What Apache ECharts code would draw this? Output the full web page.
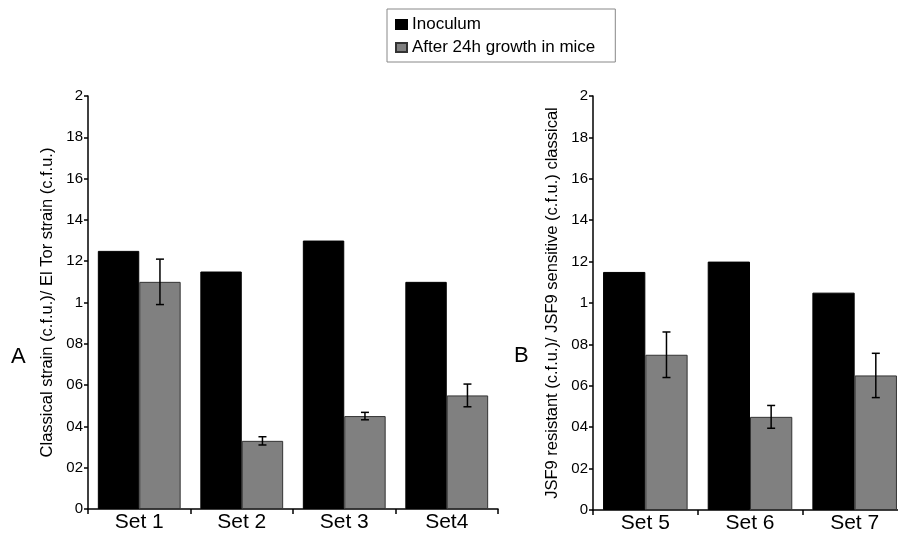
<!DOCTYPE html>
<html>
<head>
<meta charset="utf-8">
<script src="https://cdn.jsdelivr.net/npm/echarts@6/dist/echarts.min.js"></script>
<style>
html,body{margin:0;padding:0;background:#fff;overflow:hidden;width:898px;height:535px;}
#c{width:912px;height:535px;}
</style>
</head>
<body>
<div id="c"></div>
<script>
const catsA = ['Set 1', 'Set 2', 'Set 3', 'Set4'];
const inocA = [1.25, 1.15, 1.3, 1.1];
const miceA = [1.10, 0.33, 0.45, 0.55];
const errA = [0.11, 0.02, 0.018, 0.055];

const catsB = ['Set 5', 'Set 6', 'Set 7'];
const inocB = [1.15, 1.2, 1.05];
const miceB = [0.75, 0.45, 0.65];
const errB = [0.11, 0.055, 0.107];

const yTickLabels = ['0', '02', '04', '06', '08', '1', '12', '14', '16', '18', '2'];

const FONT = 'Liberation Sans';
const chart = echarts.init(document.getElementById('c'));

function errSeries(axisIdx, vals, errs) {
  return {
    type: 'custom',
    xAxisIndex: axisIdx, yAxisIndex: axisIdx,
    z: 10,
    silent: true,
    data: vals.map((v, i) => [i, v, errs[i]]),
    renderItem: function (params, api) {
      const i = api.value(0), v = api.value(1), e = api.value(2);
      const catW = api.size([1, 0])[0];
      const barW = catW * (1 - 0.192) / 2;
      const c = api.coord([i, v]);
      const x = c[0] + barW / 2;
      const yt = api.coord([i, v + e])[1];
      const yb = api.coord([i, v - e])[1];
      const cap = 4;
      const st = { stroke: '#000', lineWidth: 1.5 };
      return { type: 'group', children: [
        { type: 'line', shape: { x1: x, y1: yt, x2: x, y2: yb }, style: st },
        { type: 'line', shape: { x1: x - cap, y1: yt, x2: x + cap, y2: yt }, style: st },
        { type: 'line', shape: { x1: x - cap, y1: yb, x2: x + cap, y2: yb }, style: st }
      ]};
    }
  };
}

function yAxis(gridIdx, name) {
  return {
    type: 'value', gridIndex: gridIdx, min: 0, max: 2, interval: 0.2,
    name: name, nameLocation: 'middle', nameGap: 32,
    nameTextStyle: { fontFamily: FONT, fontSize: 16.5, color: '#000' },
    axisLine: { show: true, lineStyle: { color: '#000', width: 1.5 } },
    axisTick: { show: true, length: 4, lineStyle: { color: '#000', width: 1.5 } },
    axisLabel: { fontFamily: FONT, fontSize: 15, color: '#000', margin: 5,
      formatter: function (v) { return yTickLabels[Math.round(v / 0.2)]; } },
    splitLine: { show: false }
  };
}

function xAxis(gridIdx, cats) {
  return {
    type: 'category', gridIndex: gridIdx, data: cats,
    axisLine: { show: true, lineStyle: { color: '#000', width: 1.5 } },
    axisTick: { show: true, length: 5, lineStyle: { color: '#000', width: 1.5 } },
    axisLabel: { fontFamily: FONT, fontSize: 21, color: '#000', margin: 3 }
  };
}

const barBase = { type: 'bar', barGap: '0%', barCategoryGap: '19.2%' };

chart.setOption({
  animation: false,
  backgroundColor: '#fff',
  legend: {
    left: 387, top: 9, orient: 'vertical',
    data: ['Inoculum', 'After 24h growth in mice'],
    borderColor: '#888', borderWidth: 1,
    padding: [7, 20, 6, 8],
    itemGap: 6, itemWidth: 11, itemHeight: 9,
    icon: 'rect',
    textStyle: { fontFamily: FONT, fontSize: 17, color: '#000' }
  },
  grid: [
    { left: 88, top: 96, width: 410, height: 413 },
    { left: 593, top: 96, width: 314, height: 414 }
  ],
  xAxis: [xAxis(0, catsA), xAxis(1, catsB)],
  yAxis: [
    yAxis(0, 'Classical strain (c.f.u.)/ El Tor strain (c.f.u.)'),
    yAxis(1, 'JSF9 resistant (c.f.u.)/ JSF9 sensitive (c.f.u.) classical')
  ],
  series: [
    Object.assign({}, barBase, { name: 'Inoculum', xAxisIndex: 0, yAxisIndex: 0, data: inocA,
      itemStyle: { color: '#000', borderColor: '#000', borderWidth: 1 } }),
    Object.assign({}, barBase, { name: 'After 24h growth in mice', xAxisIndex: 0, yAxisIndex: 0, data: miceA,
      itemStyle: { color: '#808080', borderColor: '#333', borderWidth: 1 } }),
    Object.assign({}, barBase, { name: 'Inoculum', xAxisIndex: 1, yAxisIndex: 1, data: inocB,
      itemStyle: { color: '#000', borderColor: '#000', borderWidth: 1 } }),
    Object.assign({}, barBase, { name: 'After 24h growth in mice', xAxisIndex: 1, yAxisIndex: 1, data: miceB,
      itemStyle: { color: '#808080', borderColor: '#333', borderWidth: 1 } }),
    errSeries(0, miceA, errA),
    errSeries(1, miceB, errB)
  ],
  graphic: [
    { type: 'text', left: 11, top: 346, style: { text: 'A', fontFamily: FONT, fontSize: 22, fill: '#000' } },
    { type: 'text', left: 514, top: 345, style: { text: 'B', fontFamily: FONT, fontSize: 22, fill: '#000' } }
  ]
});
</script>
</body>
</html>
